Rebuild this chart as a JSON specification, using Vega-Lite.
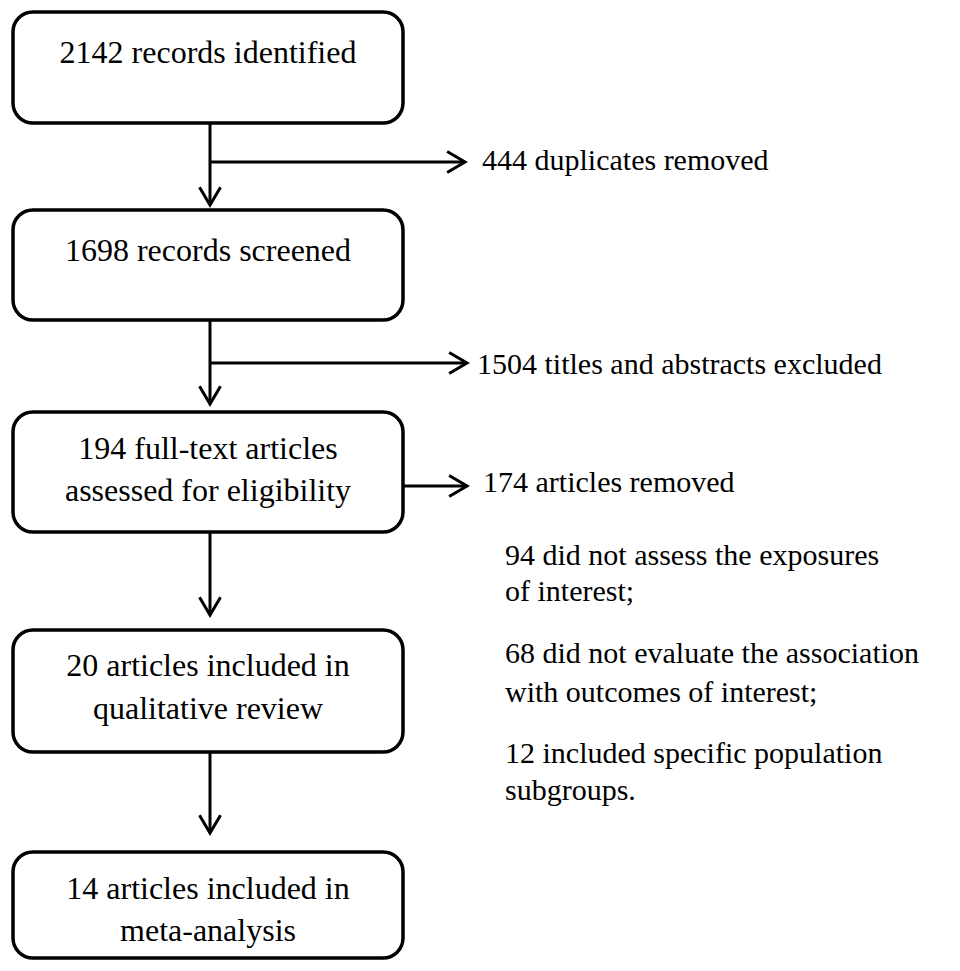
{
  "$schema": "https://vega.github.io/schema/vega-lite/v6.json",
  "autosize": {"type": "fit", "contains": "padding"},
  "width": 960,
  "height": 971,
  "padding": 0,
  "background": "white",
  "config": {"view": {"stroke": null}},
  "datasets": {
    "boxes": [
      {"step": "Identification", "x1": 13, "x2": 403, "y1": 12, "y2": 123},
      {"step": "Screening", "x1": 13, "x2": 403, "y1": 210, "y2": 320},
      {"step": "Eligibility", "x1": 13, "x2": 403, "y1": 412, "y2": 532},
      {"step": "Qualitative", "x1": 13, "x2": 403, "y1": 630, "y2": 752},
      {"step": "Meta", "x1": 13, "x2": 403, "y1": 852, "y2": 958}
    ],
    "links": [
      {"x1": 210, "x2": 210, "y1": 123, "y2": 205, "dir": 90},
      {"x1": 210, "x2": 465, "y1": 162, "y2": 162, "dir": 0},
      {"x1": 210, "x2": 210, "y1": 320, "y2": 404, "dir": 90},
      {"x1": 210, "x2": 467, "y1": 363, "y2": 363, "dir": 0},
      {"x1": 403, "x2": 467, "y1": 486, "y2": 486, "dir": 0},
      {"x1": 210, "x2": 210, "y1": 532, "y2": 615, "dir": 90},
      {"x1": 210, "x2": 210, "y1": 752, "y2": 833, "dir": 90}
    ],
    "boxText": [
      {"label": "2142 records identified", "x": 208, "y": 53},
      {"label": "1698 records screened", "x": 208, "y": 251},
      {"label": "194 full-text articles", "x": 208, "y": 449},
      {"label": "assessed for eligibility", "x": 208, "y": 491},
      {"label": "20 articles included in", "x": 208, "y": 666},
      {"label": "qualitative review", "x": 208, "y": 709},
      {"label": "14 articles included in", "x": 208, "y": 889},
      {"label": "meta-analysis", "x": 208, "y": 931}
    ],
    "sideText": [
      {"label": "444 duplicates removed", "x": 482, "y": 161},
      {"label": "1504 titles and abstracts excluded", "x": 477, "y": 365},
      {"label": "174 articles removed", "x": 483, "y": 483},
      {"label": "94 did not assess the exposures", "x": 505, "y": 556},
      {"label": "of interest;", "x": 505, "y": 592},
      {"label": "68 did not evaluate the association", "x": 505, "y": 654},
      {"label": "with outcomes of interest;", "x": 505, "y": 693},
      {"label": "12 included specific population", "x": 505, "y": 754},
      {"label": "subgroups.", "x": 505, "y": 791}
    ]
  },
  "layer": [
    {
      "data": {"name": "boxes"},
      "mark": {"type": "rect", "fill": "white", "stroke": "black", "strokeWidth": 3.5, "cornerRadius": 20},
      "encoding": {
        "x": {"field": "x1", "type": "quantitative", "scale": {"domain": [0, 960], "nice": false, "zero": false}, "axis": null},
        "x2": {"field": "x2"},
        "y": {"field": "y1", "type": "quantitative", "scale": {"domain": [0, 971], "nice": false, "zero": false, "reverse": true}, "axis": null},
        "y2": {"field": "y2"}
      }
    },
    {
      "data": {"name": "links"},
      "mark": {"type": "rule", "stroke": "black", "strokeWidth": 3},
      "encoding": {
        "x": {"field": "x1", "type": "quantitative"},
        "x2": {"field": "x2"},
        "y": {"field": "y1", "type": "quantitative"},
        "y2": {"field": "y2"}
      }
    },
    {
      "data": {"name": "links"},
      "mark": {"type": "point", "shape": "M-1.7,-1L0,0L-1.7,1", "filled": false, "stroke": "black", "strokeWidth": 3, "size": 441, "opacity": 1},
      "encoding": {
        "x": {"field": "x2", "type": "quantitative"},
        "y": {"field": "y2", "type": "quantitative"},
        "angle": {"field": "dir", "type": "quantitative", "scale": null}
      }
    },
    {
      "data": {"name": "boxText"},
      "mark": {"type": "text", "font": "Liberation Serif", "fontSize": 32, "align": "center", "baseline": "middle", "color": "black"},
      "encoding": {
        "x": {"field": "x", "type": "quantitative"},
        "y": {"field": "y", "type": "quantitative"},
        "text": {"field": "label"}
      }
    },
    {
      "data": {"name": "sideText"},
      "mark": {"type": "text", "font": "Liberation Serif", "fontSize": 30, "align": "left", "baseline": "middle", "color": "black"},
      "encoding": {
        "x": {"field": "x", "type": "quantitative"},
        "y": {"field": "y", "type": "quantitative"},
        "text": {"field": "label"}
      }
    }
  ]
}
